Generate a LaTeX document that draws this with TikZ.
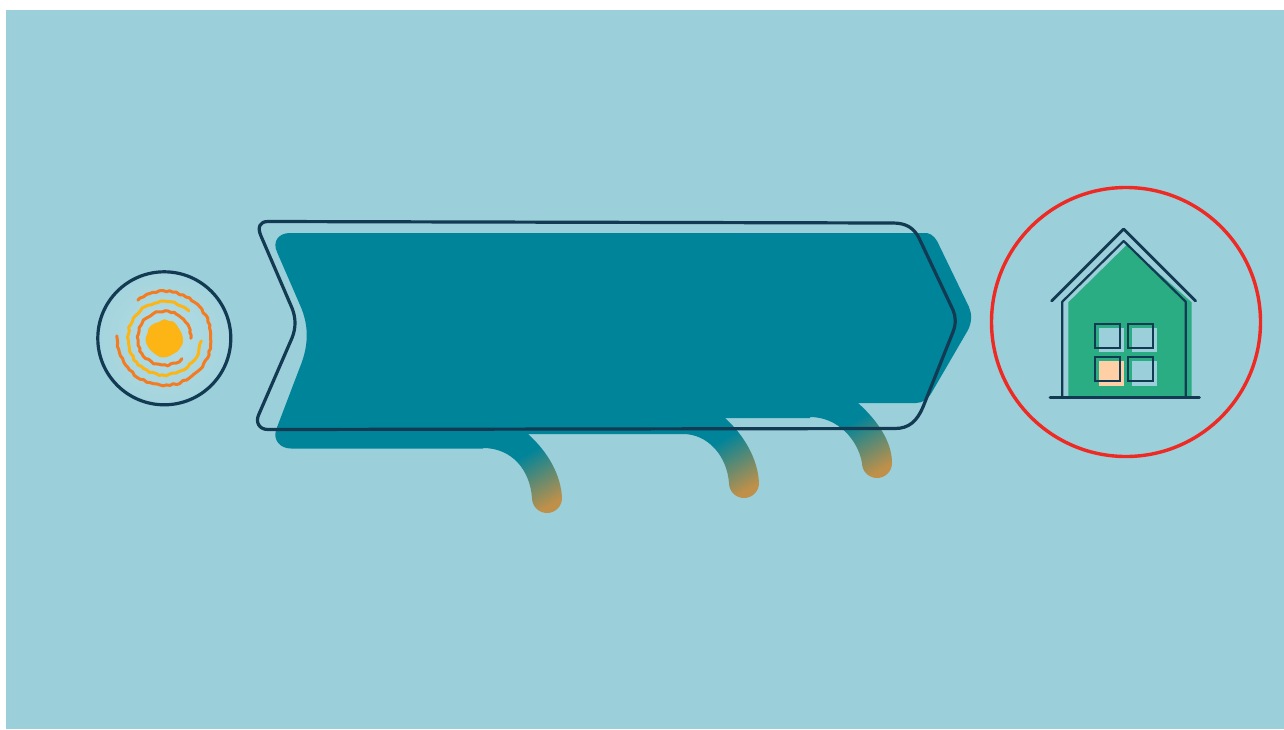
\documentclass[tikz,border=0pt]{standalone}
\usepackage{xcolor}
\usepackage{tikz}
\definecolor{bgblue}{HTML}{9BCFD9}
\definecolor{paleblue}{HTML}{B4DDE5}
\definecolor{bandteal}{HTML}{00849A}
\definecolor{tailtan}{HTML}{BF9049}
\definecolor{navyline}{HTML}{123A52}
\definecolor{sunyellow}{HTML}{FDB515}
\definecolor{sunorange}{HTML}{F47B20}
\definecolor{housegreen}{HTML}{2BAD84}
\definecolor{windowpeach}{HTML}{FFD0A6}
\definecolor{ringred}{HTML}{EE2A24}
\pgfdeclareverticalshading{tailshade}{100bp}{color(0bp)=(tailtan); color(24bp)=(tailtan); color(60bp)=(bandteal); color(100bp)=(bandteal)}

\begin{document}
\begin{tikzpicture}[
  x=1pt, y=-1pt,
  outline/.style={draw=navyline, line width=3.2pt, line join=round, line cap=round},
  tailfill/.style={shading=tailshade, shading angle=30},
  ripple/.style={line width=3pt, line cap=round, line join=round},
  windowpane/.style={fill=bgblue},
  windowline/.style={draw=navyline, line width=2.2pt}
]
  \pgfmathsetseed{7}
  \useasboundingbox (0,0) rectangle (1284,729);
  \fill[white] (0,0) rectangle (1284,729);
  \fill[bgblue] (6,10) rectangle (1284,729);

  % band
  \fill[bandteal] (290,233) -- (927,233)
    .. controls (933,234) and (937,240) .. (939,245)
    -- (969,307) .. controls (972,314) and (972,322) .. (968,330)
    -- (932,392) .. controls (928,399) and (923,403) .. (916,403)
    -- (810,403) -- (810,418) -- (683,418) -- (683,434) -- (483,434) -- (483,448.5)
    -- (291,448.5) .. controls (280,448.5) and (273,440) .. (276,430)
    -- (300,367) .. controls (309,345) and (309,325) .. (300,305)
    -- (277,252) .. controls (272,241) and (279,233) .. (290,233) -- cycle;

  % tails
  \shade[tailfill] (483,434) -- (483,448) .. controls (512,448) and (530,470) .. (532,498)
    arc[start angle=180, end angle=0, radius=15] .. controls (561,475) and (548,452) .. (528,434) -- cycle;
  \shade[tailfill] (683,418) -- (683,434) .. controls (708,434) and (727,456) .. (729,483)
    arc[start angle=180, end angle=0, radius=15] .. controls (758,460) and (745,436) .. (725,418) -- cycle;
  \shade[tailfill] (810,403) -- (810,417) .. controls (838,417) and (858,440) .. (862,463)
    arc[start angle=180, end angle=0, radius=15] .. controls (892,442) and (878,421) .. (858,403) -- cycle;

  % outline of the band
  \draw[outline] (268,221.5) -- (893,223)
    .. controls (906,223) and (914,228) .. (919,238)
    -- (953,310) .. controls (956,317) and (956,324) .. (953,332)
    -- (923,407) .. controls (917,421) and (909,428.5) .. (895,428.5)
    -- (268,429.5) .. controls (259,429.5) and (255,422) .. (259,414)
    -- (292,338) .. controls (296,328) and (296,318) .. (292,308)
    -- (261,236) .. controls (257,227) and (260,221.5) .. (268,221.5) -- cycle;

  % sun
  \node[circle, minimum size=134pt, inner sep=0pt, inner color=paleblue, outer color=paleblue!35!bgblue] (sundisc) at (164.3,338.3) {};
  \draw[navyline, line width=3.2pt] (sundisc.center) circle[radius=66.5];
  \begin{scope}[shift={(80,260)}, x=0.3333pt, y=-0.3333pt]
    \fill[sunyellow] plot[smooth cycle, domain=0:345, samples=24] ({253+(55+3*rand)*cos(\x)},{235+(55+3*rand)*sin(\x)});
    \draw[ripple, sunorange] plot[smooth, domain=0:-309, samples=50] ({253+(81+3*rand)*cos(\x)},{235+(81+3*rand)*sin(\x)});
    \draw[ripple, sunyellow] plot[smooth, domain=-48:-356, samples=60] ({253+(110+3*rand)*cos(\x)},{235+(110+3*rand)*sin(\x)});
    \draw[ripple, sunorange] plot[smooth, domain=-125:183, samples=75] ({253+(141+3*rand)*cos(\x)},{235+(141+3*rand)*sin(\x)});
  \end{scope}

  % house
  \draw[ringred, line width=3.4pt] (1126,322) circle[radius=134.5];
  \begin{scope}[shift={(1030,215)}, x=0.3333pt, y=-0.3333pt]
    \fill[housegreen] (115,545) -- (115,262) -- (290,90) -- (485,262) -- (485,545) -- cycle;
    \fill[windowpane] (208,340) rectangle (282,412);
    \fill[windowpane] (306,340) rectangle (380,412);
    \fill[windowpeach] (208,438) rectangle (282,512);
    \fill[windowpane] (306,438) rectangle (380,512);
    \draw[windowline] (195,327) rectangle (270,400);
    \draw[windowline] (293,327) rectangle (368,400);
    \draw[windowline] (195,427) rectangle (270,498);
    \draw[windowline] (293,427) rectangle (368,498);
    \draw[navyline, line width=2.2pt, line join=round] (97,547) -- (97,260) -- (281,78) -- (467,260) -- (467,547);
    \draw[navyline, line width=2.8pt, line cap=round, line join=round] (65,258) -- (281,42) -- (497,258);
    \draw[navyline, line width=3pt, line cap=round] (60,547) -- (508,547);
  \end{scope}
\end{tikzpicture}
\end{document}
